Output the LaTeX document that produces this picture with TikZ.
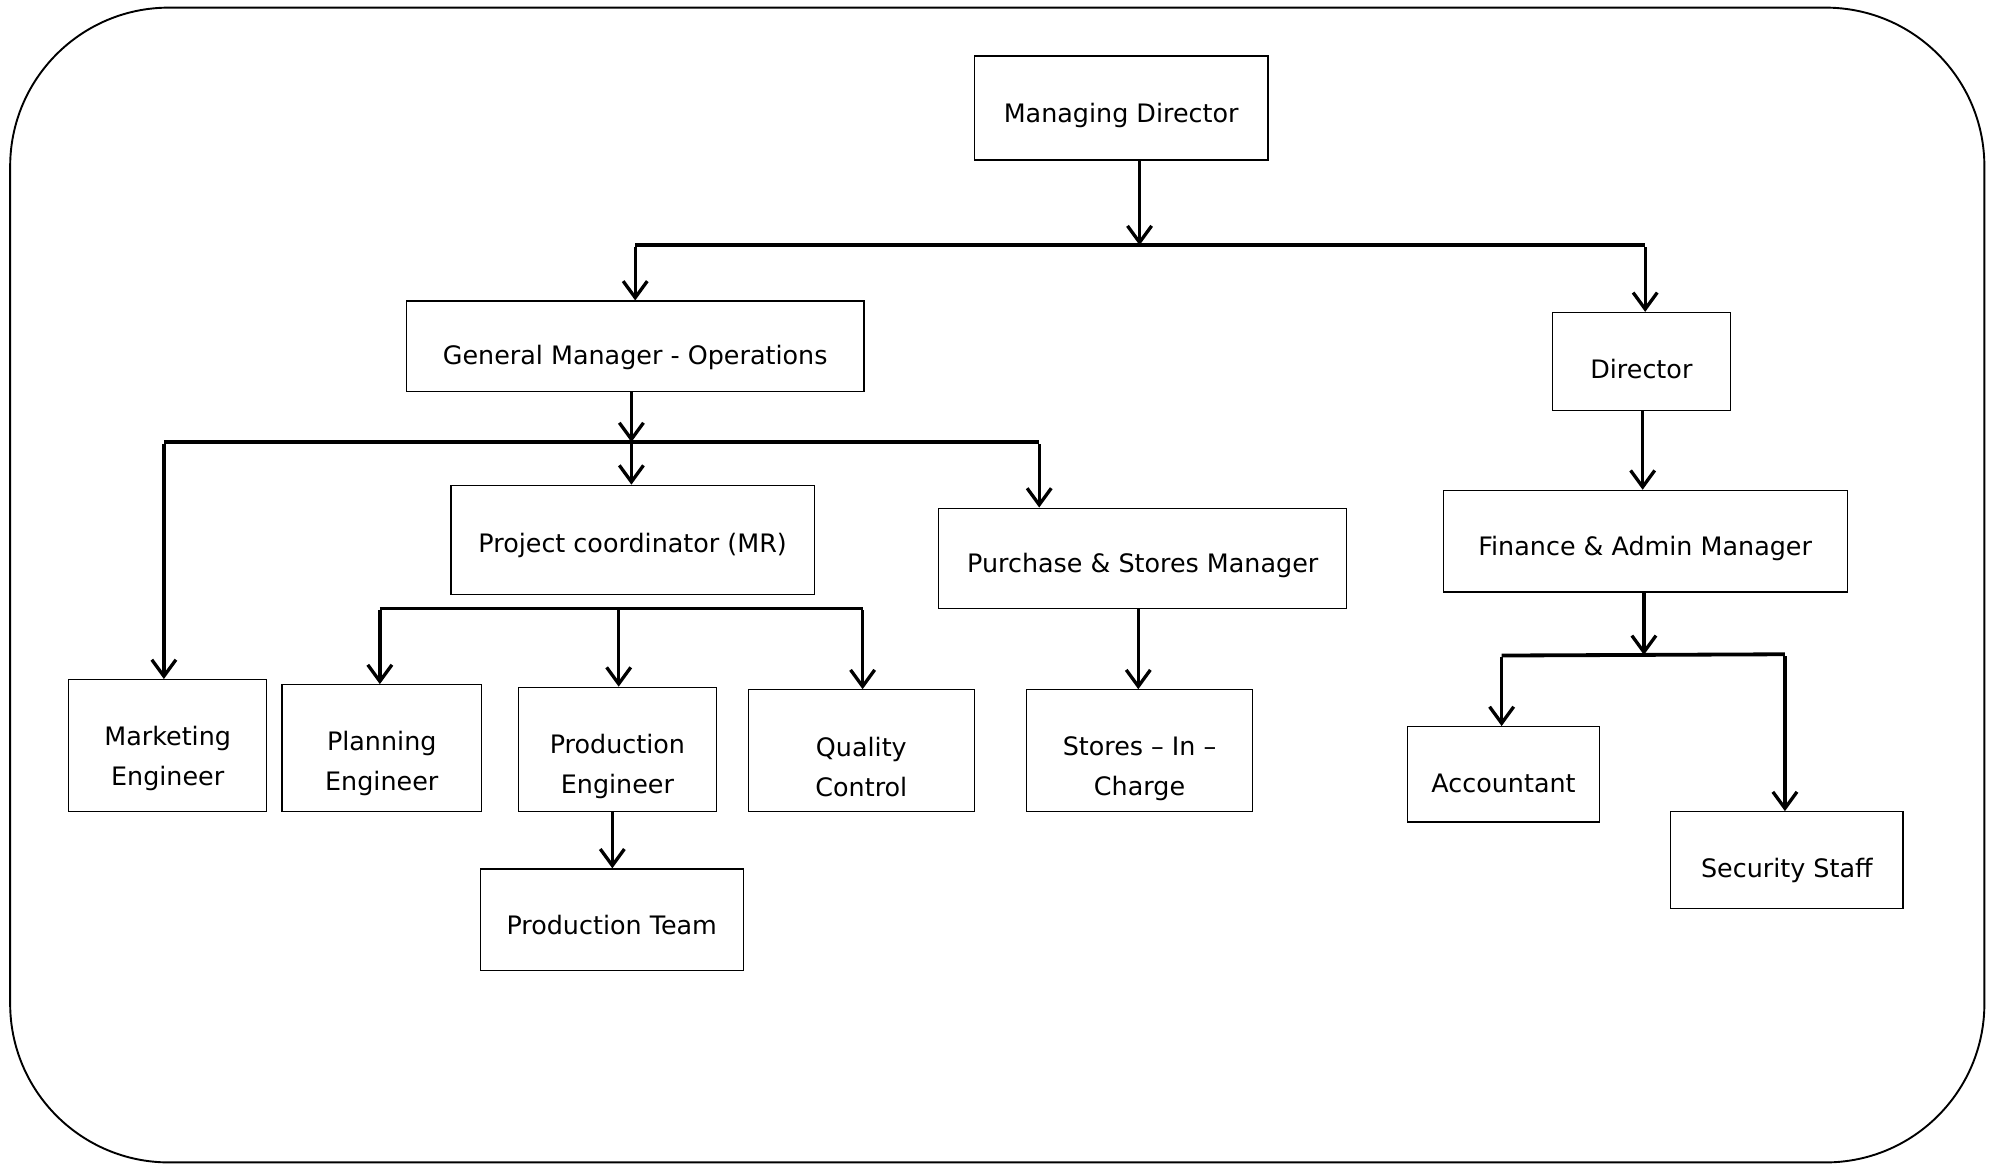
\documentclass[tikz,border=0pt]{standalone}
\usepackage{fontspec}
\setmainfont{DejaVu Sans}
\usetikzlibrary{arrows.meta}
\begin{document}
\begin{tikzpicture}[x=1pt,y=-1pt,
  box/.style={draw, line width=1pt, inner sep=0pt},
  txt/.style={inner sep=0pt, align=center, font=\fontsize{20}{31.5}\selectfont},
  arr/.style={line width=2.6pt, line cap=butt, -{Straight Barb[length=13pt,width=19pt,line width=2.6pt]}},
  bar/.style={line width=3pt, line cap=butt}]
\useasboundingbox (0,0) rectangle (1568,917);
\draw[line width=1.5pt, rounded corners=125pt] (8,6) rectangle (1562,915);
% boxes
\node[box, minimum width=231pt, minimum height=82pt, label={[txt,yshift=-6pt]center:Managing Director}] (md) at (882.5,85) {};
\node[box, minimum width=360pt, minimum height=71pt, label={[txt,yshift=-9pt]center:General Manager - Operations}] (gm) at (500,272.5) {};
\node[box, minimum width=140pt, minimum height=77pt, label={[txt,yshift=-6pt]center:Director}] (dir) at (1292,284.5) {};
\node[box, minimum width=286pt, minimum height=86pt, label={[txt,yshift=-4pt]center:Project coordinator (MR)}] (pc) at (498,425) {};
\node[box, minimum width=321pt, minimum height=79pt, label={[txt,yshift=-6pt]center:Purchase \& Stores Manager}] (psm) at (899.5,439.5) {};
\node[box, minimum width=318pt, minimum height=80pt, label={[txt,yshift=-6pt]center:Finance \& Admin Manager}] (fam) at (1295,426) {};
\node[box, minimum width=156pt, minimum height=104pt, label={[txt,yshift=-10pt]center:{Marketing\\Engineer}}] (me) at (132,587) {};
\node[box, minimum width=157pt, minimum height=100pt, label={[txt,yshift=-12pt]center:{Planning\\Engineer}}] (pe) at (300.5,589) {};
\node[box, minimum width=156pt, minimum height=98pt, label={[txt,yshift=-13pt]center:{Production\\Engineer}}] (pre) at (486,590) {};
\node[box, minimum width=178pt, minimum height=96pt, label={[txt,yshift=-13pt]center:{Quality\\Control}}] (qc) at (678,591) {};
\node[box, minimum width=178pt, minimum height=96pt, label={[txt,yshift=-14pt]center:{Stores -- In --\\Charge}}] (sic) at (897,591) {};
\node[box, minimum width=151pt, minimum height=75pt, label={[txt,yshift=-7pt]center:Accountant}] (acc) at (1183.5,609.5) {};
\node[box, minimum width=183pt, minimum height=76pt, label={[txt,yshift=-8pt]center:Security Staff}] (sec) at (1406.5,677) {};
\node[box, minimum width=207pt, minimum height=80pt, label={[txt,yshift=-4pt]center:Production Team}] (pt) at (481.5,724) {};
% junction coordinates
\coordinate (j1) at (897,193);
\coordinate (j1l) at (500,193);
\coordinate (j1r) at (1295,193);
\coordinate (j2) at (497,348);
\coordinate (j2l) at (129,348);
\coordinate (j2r) at (818,348);
\coordinate (j3l) at (299,479);
\coordinate (j3m) at (487,479);
\coordinate (j3r) at (679,479);
\coordinate (j4) at (1294,515.5);
\coordinate (j4l) at (1182,516);
\coordinate (j4r) at (1405,515);
% connectors
\draw[arr] (md.south -| j1) -- (j1);
\draw[bar] (j1l) -- (j1r);
\draw[arr] ([yshift=-1.5pt]j1l) -- (gm.north -| j1l);
\draw[arr] ([yshift=-1.5pt]j1r) -- (dir.north -| j1r);
\draw[arr] (gm.south -| j2) -- (j2);
\draw[bar] (j2l) -- (j2r);
\draw[arr] ([yshift=-1.5pt]j2l) -- (me.north -| j2l);
\draw[arr] (j2) -- (pc.north -| j2);
\draw[arr] ([yshift=-1.5pt]j2r) -- (psm.north -| j2r);
\draw[bar] (j3l) -- (j3r);
\draw[arr] ([yshift=-1.5pt]j3l) -- (pe.north -| j3l);
\draw[arr] (j3m) -- (pre.north -| j3m);
\draw[arr] ([yshift=-1.5pt]j3r) -- (qc.north -| j3r);
\draw[arr] (psm.south -| 896,0) -- (sic.north -| 896,0);
\draw[arr] (pre.south -| 482,0) -- (pt.north -| 482,0);
\draw[arr] (dir.south -| 1293,0) -- (fam.north -| 1293,0);
\draw[arr] (fam.south -| j4) -- (j4);
\draw[bar] (j4l) -- (j4r);
\draw[arr] ([yshift=-1.5pt]j4l) -- (acc.north -| j4l);
\draw[arr] ([yshift=-1.5pt]j4r) -- (sec.north -| j4r);
\end{tikzpicture}
\end{document}
